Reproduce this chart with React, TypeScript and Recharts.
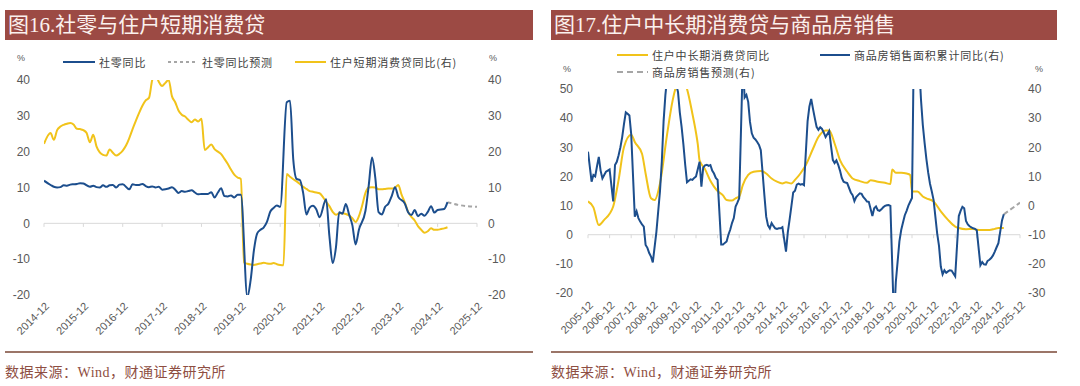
import { Line, LineChart, ReferenceLine, XAxis, YAxis } from "recharts";

type Pt = [string, number];

const BLUE = "#1C4E8D";
const YELLOW = "#F1C31A";
const GREY = "#A6A6A6";
const AXIS = "#D9D9D9";
const TXT = "#595959";
const SANS = "'Liberation Sans', Arial, sans-serif";
const CJK = "'Noto Sans CJK SC', sans-serif";

// ---- chart 16: retail sales vs household short-term consumer loans
const ticks16 = ["2014-12", "2015-12", "2016-12", "2017-12", "2018-12", "2019-12", "2020-12", "2021-12", "2022-12", "2023-12", "2024-12", "2025-12"];
const yTicks16 = [-20, -10, 0, 10, 20, 30, 40];

const retailYoY: Pt[] = [
  ["2014-12", 11.9], ["2015-02", 10.7], ["2015-03", 10.2], ["2015-04", 10.0], ["2015-05", 10.1], ["2015-06", 10.6], ["2015-07", 10.5], ["2015-08", 10.8], ["2015-09", 10.9], ["2015-10", 11.0], ["2015-11", 11.2], ["2015-12", 11.1],
  ["2016-02", 10.2], ["2016-03", 10.5], ["2016-04", 10.1], ["2016-05", 10.0], ["2016-06", 10.6], ["2016-07", 10.2], ["2016-08", 10.6], ["2016-09", 10.7], ["2016-10", 10.0], ["2016-11", 10.8], ["2016-12", 10.9],
  ["2017-02", 9.5], ["2017-03", 10.9], ["2017-04", 10.7], ["2017-05", 10.7], ["2017-06", 11.0], ["2017-07", 10.4], ["2017-08", 10.1], ["2017-09", 10.3], ["2017-10", 10.0], ["2017-11", 10.2], ["2017-12", 9.4],
  ["2018-02", 9.7], ["2018-03", 10.1], ["2018-04", 9.4], ["2018-05", 8.5], ["2018-06", 9.0], ["2018-07", 8.8], ["2018-08", 9.0], ["2018-09", 9.2], ["2018-10", 8.6], ["2018-11", 8.1], ["2018-12", 8.2],
  ["2019-02", 8.2], ["2019-03", 8.7], ["2019-04", 7.2], ["2019-05", 8.6], ["2019-06", 9.8], ["2019-07", 7.6], ["2019-08", 7.5], ["2019-09", 7.8], ["2019-10", 7.2], ["2019-11", 8.0], ["2019-12", 8.0],
  ["2020-02", -20.5], ["2020-03", -15.8], ["2020-04", -7.5], ["2020-05", -2.8], ["2020-06", -1.8], ["2020-07", -1.1], ["2020-08", 0.5], ["2020-09", 3.3], ["2020-10", 4.3], ["2020-11", 5.0], ["2020-12", 4.6],
  ["2021-02", 33.8], ["2021-03", 34.2], ["2021-04", 17.7], ["2021-05", 12.4], ["2021-06", 12.1], ["2021-07", 8.5], ["2021-08", 2.5], ["2021-09", 4.4], ["2021-10", 4.9], ["2021-11", 3.9], ["2021-12", 1.7],
  ["2022-02", 6.7], ["2022-03", -3.5], ["2022-04", -11.1], ["2022-05", -6.7], ["2022-06", 3.1], ["2022-07", 2.7], ["2022-08", 5.4], ["2022-09", 2.5], ["2022-10", -0.5], ["2022-11", -5.9], ["2022-12", -1.8],
  ["2023-02", 3.5], ["2023-03", 10.6], ["2023-04", 18.4], ["2023-05", 12.7], ["2023-06", 3.1], ["2023-07", 2.5], ["2023-08", 4.6], ["2023-09", 5.5], ["2023-10", 7.6], ["2023-11", 10.1], ["2023-12", 7.4],
  ["2024-02", 5.5], ["2024-03", 3.1], ["2024-04", 2.3], ["2024-05", 3.7], ["2024-06", 2.0], ["2024-07", 2.7], ["2024-08", 2.1], ["2024-09", 3.2], ["2024-10", 4.8], ["2024-11", 3.0], ["2024-12", 3.7],
  ["2025-02", 4.0], ["2025-03", 5.9],
];

const retailForecast: Pt[] = [["2025-03", 5.9], ["2025-06", 5.2], ["2025-12", 4.6]];

const shortLoanYoY: Pt[] = [
  ["2014-12", 22.2], ["2015-02", 25.2], ["2015-03", 23.3], ["2015-04", 26.0], ["2015-05", 27.0], ["2015-06", 27.5], ["2015-07", 27.8], ["2015-08", 28.0], ["2015-09", 27.6], ["2015-10", 26.4], ["2015-11", 26.3], ["2015-12", 26.0],
  ["2016-01", 25.2], ["2016-02", 22.6], ["2016-03", 24.7], ["2016-04", 21.5], ["2016-05", 19.8], ["2016-06", 19.1], ["2016-07", 18.9], ["2016-08", 20.6], ["2016-09", 19.7], ["2016-10", 18.9], ["2016-11", 19.4], ["2016-12", 20.3],
  ["2017-01", 21.7], ["2017-02", 23.8], ["2017-03", 26.3], ["2017-04", 28.6], ["2017-05", 30.8], ["2017-06", 32.8], ["2017-07", 34.3], ["2017-08", 35.0], ["2017-09", 40.0], ["2017-10", 41.5], ["2017-11", 39.5], ["2017-12", 38.3],
  ["2018-01", 39.2], ["2018-02", 40.0], ["2018-03", 35.5], ["2018-04", 33.8], ["2018-05", 31.5], ["2018-06", 30.3], ["2018-07", 29.8], ["2018-08", 28.9], ["2018-09", 28.2], ["2018-10", 29.0], ["2018-11", 28.4], ["2018-12", 29.2],
  ["2019-01", 20.5], ["2019-02", 21.2], ["2019-03", 22.0], ["2019-04", 20.7], ["2019-05", 20.0], ["2019-06", 19.3], ["2019-07", 18.0], ["2019-08", 16.6], ["2019-09", 15.0], ["2019-10", 13.6], ["2019-11", 12.8], ["2019-12", 12.4],
  ["2020-01", -10.9], ["2020-02", -11.3], ["2020-03", -11.5], ["2020-04", -11.6], ["2020-05", -11.4], ["2020-06", -11.2], ["2020-07", -11.0], ["2020-08", -11.2], ["2020-09", -11.3], ["2020-10", -11.1], ["2020-11", -11.4], ["2020-12", -11.6],
  ["2021-01", -11.7], ["2021-02", 13.8], ["2021-03", 13.0], ["2021-04", 12.3], ["2021-05", 11.7], ["2021-06", 11.0], ["2021-07", 10.2], ["2021-08", 9.6], ["2021-09", 9.0], ["2021-10", 8.8], ["2021-11", 8.6], ["2021-12", 8.4],
  ["2022-01", 7.4], ["2022-02", 6.0], ["2022-03", 4.8], ["2022-04", 3.2], ["2022-05", 2.4], ["2022-06", 2.8], ["2022-07", 2.8], ["2022-08", 2.6], ["2022-09", 2.2], ["2022-10", 1.4], ["2022-11", 0.4], ["2022-12", 2.0],
  ["2023-01", 5.0], ["2023-02", 8.5], ["2023-03", 10.0], ["2023-04", 10.1], ["2023-05", 10.0], ["2023-06", 9.5], ["2023-07", 9.5], ["2023-08", 9.6], ["2023-09", 9.7], ["2023-10", 9.7], ["2023-11", 9.9], ["2023-12", 10.7],
  ["2024-01", 8.0], ["2024-02", 5.8], ["2024-03", 3.2], ["2024-04", 1.8], ["2024-05", 0.8], ["2024-06", -0.8], ["2024-07", -1.8], ["2024-08", -2.6], ["2024-09", -2.2], ["2024-10", -1.4], ["2024-11", -1.8], ["2024-12", -1.8],
  ["2025-01", -1.6], ["2025-02", -1.4], ["2025-03", -1.1],
];

// ---- chart 17: household mid/long-term consumer loans vs housing sales
const ticks17 = ["2005-12", "2006-12", "2007-12", "2008-12", "2009-12", "2010-12", "2011-12", "2012-12", "2013-12", "2014-12", "2015-12", "2016-12", "2017-12", "2018-12", "2019-12", "2020-12", "2021-12", "2022-12", "2023-12", "2024-12", "2025-12"];
const yTicks17L = [-20, -10, 0, 10, 20, 30, 40, 50];
const yTicks17R = [-30, -20, -10, 0, 10, 20, 30, 40];

const midLongLoanYoY: Pt[] = [
  ["2005-12", 11.4], ["2006-03", 9.4], ["2006-06", 3.3], ["2006-09", 5.1], ["2006-12", 7.2], ["2007-02", 9.7], ["2007-05", 18.8], ["2007-08", 30.1], ["2007-12", 34.3],
  ["2008-02", 31.8], ["2008-06", 27.8], ["2008-08", 21.0], ["2008-11", 12.5], ["2009-01", 11.9], ["2009-04", 17.6], ["2009-08", 34.7], ["2009-11", 46.0],
  ["2010-01", 51.0], ["2010-03", 53.0], ["2010-05", 53.0], ["2010-07", 50.0], ["2010-10", 41.5], ["2010-12", 35.0], ["2011-01", 31.0], ["2011-02", 25.5], ["2011-05", 22.5],
  ["2011-08", 18.5], ["2011-10", 16.5], ["2011-12", 15.0], ["2012-03", 13.5], ["2012-05", 11.9], ["2012-08", 11.7], ["2012-10", 12.5], ["2012-12", 13.1],
  ["2013-02", 17.0], ["2013-05", 20.5], ["2013-08", 21.6], ["2013-12", 21.9], ["2014-03", 21.0], ["2014-06", 19.3], ["2014-09", 18.2], ["2014-12", 17.6],
  ["2015-02", 18.0], ["2015-05", 17.6], ["2015-07", 18.8], ["2015-10", 21.0], ["2016-01", 23.9], ["2016-05", 29.5], ["2016-08", 33.5], ["2016-12", 35.8],
  ["2017-02", 35.8], ["2017-05", 31.3], ["2017-08", 25.6], ["2017-12", 21.6], ["2018-03", 19.3], ["2018-07", 18.4], ["2018-11", 17.8],
  ["2019-01", 18.7], ["2019-05", 18.2], ["2019-09", 17.8], ["2019-12", 17.4], ["2020-01", 22.4], ["2020-03", 21.3], ["2020-06", 21.3], ["2020-09", 21.0], ["2020-11", 20.5],
  ["2020-12", 14.8], ["2021-03", 14.8], ["2021-06", 13.1], ["2021-08", 12.5], ["2021-12", 11.4], ["2022-04", 8.0], ["2022-08", 5.1], ["2022-12", 2.8],
  ["2023-02", 2.3], ["2023-06", 1.9], ["2023-10", 2.0], ["2023-12", 1.7], ["2024-03", 1.6], ["2024-07", 1.6], ["2024-10", 2.0], ["2024-12", 2.3], ["2025-03", 2.3],
];

const housingSalesYoY: Pt[] = [
  ["2005-12", 18.5], ["2006-02", 8.2], ["2006-03", 10.5], ["2006-04", 10.0], ["2006-05", 13.5], ["2006-06", 16.7], ["2006-07", 12.0], ["2006-08", 9.3], ["2006-09", 10.5], ["2006-10", 11.6], ["2006-11", 12.0], ["2006-12", 12.4],
  ["2007-02", 1.4], ["2007-03", 13.9], ["2007-04", 15.0], ["2007-05", 17.3], ["2007-06", 20.0], ["2007-07", 23.5], ["2007-08", 28.0], ["2007-09", 32.0], ["2007-10", 31.5], ["2007-11", 30.9], ["2007-12", 24.5],
  ["2008-02", -3.8], ["2008-03", -2.0], ["2008-04", -4.3], ["2008-05", -5.5], ["2008-06", -6.5], ["2008-07", -7.2], ["2008-08", -13.5], ["2008-09", -14.5], ["2008-10", -16.3], ["2008-11", -17.5], ["2008-12", -19.5],
  ["2009-02", -9.0], ["2009-03", -2.0], ["2009-04", 5.0], ["2009-05", 15.0], ["2009-06", 29.0], ["2009-07", 38.0], ["2009-08", 44.0], ["2009-09", 48.0], ["2009-10", 50.0], ["2009-11", 48.0], ["2009-12", 44.0],
  ["2010-02", 39.0], ["2010-03", 32.0], ["2010-04", 27.0], ["2010-05", 21.0], ["2010-06", 14.0], ["2010-07", 8.0], ["2010-08", 8.5], ["2010-09", 9.0], ["2010-10", 8.8], ["2010-11", 9.5], ["2010-12", 10.0],
  ["2011-02", 15.0], ["2011-03", 6.5], ["2011-04", 13.0], ["2011-05", 13.8], ["2011-06", 14.0], ["2011-07", 13.6], ["2011-08", 13.9], ["2011-09", 12.0], ["2011-10", 11.0], ["2011-11", 9.5], ["2011-12", 8.8],
  ["2012-02", -13.4], ["2012-03", -13.4], ["2012-04", -12.8], ["2012-05", -12.3], ["2012-06", -10.0], ["2012-07", -8.3], ["2012-08", -6.0], ["2012-09", -4.3], ["2012-10", -0.3], ["2012-11", 1.0], ["2012-12", 2.5],
  ["2013-02", 49.5], ["2013-03", 37.1], ["2013-04", 38.0], ["2013-05", 35.6], ["2013-06", 28.7], ["2013-07", 24.8], ["2013-08", 23.3], ["2013-09", 22.7], ["2013-10", 21.8], ["2013-11", 20.8], ["2013-12", 19.0],
  ["2014-02", 3.5], ["2014-03", -3.8], ["2014-04", -6.8], ["2014-05", -7.8], ["2014-06", -6.0], ["2014-07", -7.0], ["2014-08", -7.8], ["2014-09", -8.0], ["2014-10", -7.8], ["2014-11", -7.8], ["2014-12", -7.4],
  ["2015-02", -15.8], ["2015-03", -9.2], ["2015-04", -4.8], ["2015-05", -0.2], ["2015-06", 4.5], ["2015-07", 5.1], ["2015-08", 7.2], ["2015-09", 7.5], ["2015-10", 7.2], ["2015-11", 7.4], ["2015-12", 7.0],
  ["2016-02", 29.0], ["2016-03", 34.0], ["2016-04", 36.6], ["2016-05", 33.2], ["2016-06", 30.0], ["2016-07", 27.0], ["2016-08", 26.0], ["2016-09", 26.9], ["2016-10", 26.3], ["2016-11", 25.0], ["2016-12", 23.5],
  ["2017-02", 25.6], ["2017-03", 20.5], ["2017-04", 15.7], ["2017-05", 14.6], ["2017-06", 15.5], ["2017-07", 14.0], ["2017-08", 12.0], ["2017-09", 9.5], ["2017-10", 8.2], ["2017-11", 7.9], ["2017-12", 7.7],
  ["2018-02", 4.5], ["2018-03", 3.6], ["2018-04", 1.5], ["2018-05", 2.9], ["2018-06", 3.6], ["2018-07", 4.2], ["2018-08", 4.0], ["2018-09", 2.9], ["2018-10", 2.2], ["2018-11", 1.4], ["2018-12", 1.3],
  ["2019-02", -3.6], ["2019-03", -0.9], ["2019-04", -0.3], ["2019-05", -1.6], ["2019-06", -1.8], ["2019-07", -1.3], ["2019-08", -0.6], ["2019-09", -0.1], ["2019-10", 0.1], ["2019-11", 0.2], ["2019-12", -0.1],
  ["2020-02", -39.9], ["2020-03", -26.3], ["2020-04", -19.3], ["2020-05", -12.3], ["2020-06", -8.4], ["2020-07", -5.8], ["2020-08", -3.3], ["2020-09", -1.8], ["2020-10", 0.0], ["2020-11", 1.3], ["2020-12", 2.6],
  ["2021-02", 104.9], ["2021-03", 63.8], ["2021-04", 48.1], ["2021-05", 36.3], ["2021-06", 27.7], ["2021-07", 21.5], ["2021-08", 15.9], ["2021-09", 11.3], ["2021-10", 7.5], ["2021-11", 4.8], ["2021-12", 1.9],
  ["2022-02", -9.6], ["2022-03", -13.8], ["2022-04", -20.9], ["2022-05", -23.6], ["2022-06", -22.2], ["2022-07", -23.1], ["2022-08", -22.6], ["2022-09", -22.2], ["2022-10", -22.3], ["2022-11", -23.3], ["2022-12", -24.3],
  ["2023-02", -3.6], ["2023-03", -1.8], ["2023-04", -0.4], ["2023-05", -0.9], ["2023-06", -5.3], ["2023-07", -6.5], ["2023-08", -7.1], ["2023-09", -7.5], ["2023-10", -7.8], ["2023-11", -8.0], ["2023-12", -8.5],
  ["2024-02", -20.5], ["2024-03", -19.4], ["2024-04", -20.2], ["2024-05", -20.3], ["2024-06", -19.0], ["2024-07", -18.6], ["2024-08", -18.0], ["2024-09", -17.1], ["2024-10", -15.8], ["2024-11", -14.3], ["2024-12", -12.9],
  ["2025-02", -5.1], ["2025-03", -3.0],
];

const housingForecast: Pt[] = [["2025-03", -3.0], ["2025-12", 1.0]];

// ---- helpers
const monthIndex = (d: string) => {
  const [y, m] = d.split("-").map(Number);
  return y * 12 + m - 1;
};
const rows = (pts: Pt[]) => pts.map(([d, v]) => ({ t: monthIndex(d), v }));
const monthLabel = (t: number) => `${Math.floor(t / 12)}-${String((t % 12) + 1).padStart(2, "0")}`;

const SlantTick = (props: any) => {
  const { x, y, payload } = props;
  const px = x + 3;
  return (
    <text x={px} y={y} textAnchor="end" dominantBaseline="central" fontSize={11}
          fontFamily={SANS} fill={TXT} transform={`rotate(-45 ${px} ${y})`}>
      {monthLabel(payload.value)}
    </text>
  );
};

const yTickStyle = { fontSize: 12, fill: TXT, fontFamily: SANS };

function LegendItem({ x, y, color, dash, label, width = 31 }: {
  x: number; y: number; color: string; dash?: string; label: string; width?: number;
}) {
  return (
    <div style={{ position: "absolute", left: x, top: y - 8, height: 16, display: "flex", alignItems: "center" }}>
      <svg width={width} height={4} style={{ display: "block" }}>
        <line x1={0} y1={2} x2={width} y2={2} stroke={color} strokeWidth={2} strokeDasharray={dash} />
      </svg>
      <span style={{ marginLeft: 4, fontSize: 11, letterSpacing: 0.8, color: "#404040", fontFamily: CJK, whiteSpace: "nowrap" }}>
        {label}
      </span>
    </div>
  );
}

function Frame({ left, width, title }: { left: number; width: number; title: string }) {
  return (
    <>
      <div style={{ position: "absolute", left, top: 10, width, height: 30, background: "#9C4A44",
                    color: "#FBF1EE", fontSize: 21, lineHeight: "30px", paddingLeft: 3, boxSizing: "border-box",
                    fontFamily: "'Liberation Serif', 'Noto Sans CJK SC', serif", whiteSpace: "nowrap" }}>
        {title}
      </div>
      <div style={{ position: "absolute", left, top: 351, width, height: 2, background: "#9B7568" }} />
      <div style={{ position: "absolute", left, top: 361, fontSize: 14, color: "#8E4E42", whiteSpace: "nowrap",
                    fontFamily: "'Liberation Serif', 'Noto Sans CJK SC', serif", letterSpacing: 0.5 }}>
        数据来源：Wind，财通证券研究所
      </div>
    </>
  );
}

const pct = (x: number, y: number) => (
  <div style={{ position: "absolute", left: x, top: y, fontSize: 9, color: TXT, fontFamily: SANS }}>%</div>
);

function Chart16() {
  const tickVals = ticks16.map(monthIndex);
  return (
    <LineChart width={540} height={386} margin={{ top: 80, right: 23, bottom: 51, left: 14 }}>
      <XAxis type="number" dataKey="t" domain={[tickVals[0], tickVals[tickVals.length - 1]]} ticks={tickVals}
             interval={0} allowDataOverflow axisLine={false} tickLine={false} tickSize={0} tickMargin={9}
             height={40} tick={SlantTick} />
      <YAxis yAxisId="l" domain={[-20, 40]} ticks={yTicks16} allowDataOverflow width={30}
             axisLine={false} tickLine={false} tickSize={0} tickMargin={14} tick={yTickStyle} />
      <YAxis yAxisId="r" orientation="right" domain={[-20, 40]} ticks={yTicks16} allowDataOverflow width={40}
             axisLine={false} tickLine={false} tickSize={0} tickMargin={11} tick={{ ...yTickStyle, textAnchor: "start" }} />
      <ReferenceLine yAxisId="l" y={0} stroke={AXIS} strokeWidth={1} />
      {tickVals.map((t) => (
        <ReferenceLine key={t} yAxisId="l" segment={[{ x: t, y: 0 }, { x: t, y: -1 }]} stroke={AXIS} strokeWidth={1} />
      ))}
      <Line yAxisId="r" data={rows(shortLoanYoY)} dataKey="v" type="monotone" stroke={YELLOW} strokeWidth={2}
            dot={false} activeDot={false} isAnimationActive={false} />
      <Line yAxisId="l" data={rows(retailForecast)} dataKey="v" type="monotone" stroke={GREY} strokeWidth={2}
            strokeDasharray="4 3" dot={false} activeDot={false} isAnimationActive={false} />
      <Line yAxisId="l" data={rows(retailYoY)} dataKey="v" type="monotone" stroke={BLUE} strokeWidth={2}
            dot={false} activeDot={false} isAnimationActive={false} />
    </LineChart>
  );
}

function Chart17() {
  const tickVals = ticks17.map(monthIndex);
  return (
    <LineChart width={540} height={386} margin={{ top: 89, right: 20, bottom: 53, left: 14 }}>
      <XAxis type="number" dataKey="t" domain={[tickVals[0], tickVals[tickVals.length - 1]]} ticks={tickVals}
             interval={0} allowDataOverflow axisLine={false} tickLine={false} tickSize={0} tickMargin={10}
             height={40} tick={SlantTick} />
      <YAxis yAxisId="l" domain={[-20, 50]} ticks={yTicks17L} allowDataOverflow width={34}
             axisLine={false} tickLine={false} tickSize={0} tickMargin={15} tick={yTickStyle} />
      <YAxis yAxisId="r" orientation="right" domain={[-30, 40]} ticks={yTicks17R} allowDataOverflow width={40}
             axisLine={false} tickLine={false} tickSize={0} tickMargin={8} tick={{ ...yTickStyle, textAnchor: "start" }} />
      <ReferenceLine yAxisId="l" y={0} stroke={AXIS} strokeWidth={1} />
      {tickVals.map((t) => (
        <ReferenceLine key={t} yAxisId="l" segment={[{ x: t, y: 0 }, { x: t, y: -1.2 }]} stroke={AXIS} strokeWidth={1} />
      ))}
      <Line yAxisId="l" data={rows(midLongLoanYoY)} dataKey="v" type="monotone" stroke={YELLOW} strokeWidth={2}
            dot={false} activeDot={false} isAnimationActive={false} />
      <Line yAxisId="r" data={rows(housingForecast)} dataKey="v" type="linear" stroke={GREY} strokeWidth={2}
            strokeDasharray="5 3" dot={false} activeDot={false} isAnimationActive={false} />
      <Line yAxisId="r" data={rows(housingSalesYoY)} dataKey="v" type="linear" stroke={BLUE} strokeWidth={2}
            dot={false} activeDot={false} isAnimationActive={false} />
    </LineChart>
  );
}

export default function App() {
  return (
    <div style={{ position: "absolute", left: 0, top: 0, width: 1080, height: 386, background: "#fff", overflow: "hidden" }}>
      <div style={{ position: "absolute", left: 0, top: 0 }}><Chart16 /></div>
      <div style={{ position: "absolute", left: 540, top: 0 }}><Chart17 /></div>

      <Frame left={5} width={528} title="图16.社零与住户短期消费贷" />
      <Frame left={551} width={506} title="图17.住户中长期消费贷与商品房销售" />

      {pct(17, 53)}
      {pct(489, 53)}
      <LegendItem x={63} y={62} color={BLUE} label="社零同比" width={32} />
      <LegendItem x={168} y={62} color={GREY} dash="3 3" label="社零同比预测" width={30} />
      <LegendItem x={295} y={62} color={YELLOW} label="住户短期消费贷同比(右)" width={31} />

      {pct(563, 64)}
      {pct(1035, 64)}
      <LegendItem x={617} y={55} color={YELLOW} label="住户中长期消费贷同比" />
      <LegendItem x={820} y={55} color={BLUE} label="商品房销售面积累计同比(右)" width={30} />
      <LegendItem x={617} y={72} color={GREY} dash="6 4" label="商品房销售预测(右)" />
    </div>
  );
}
